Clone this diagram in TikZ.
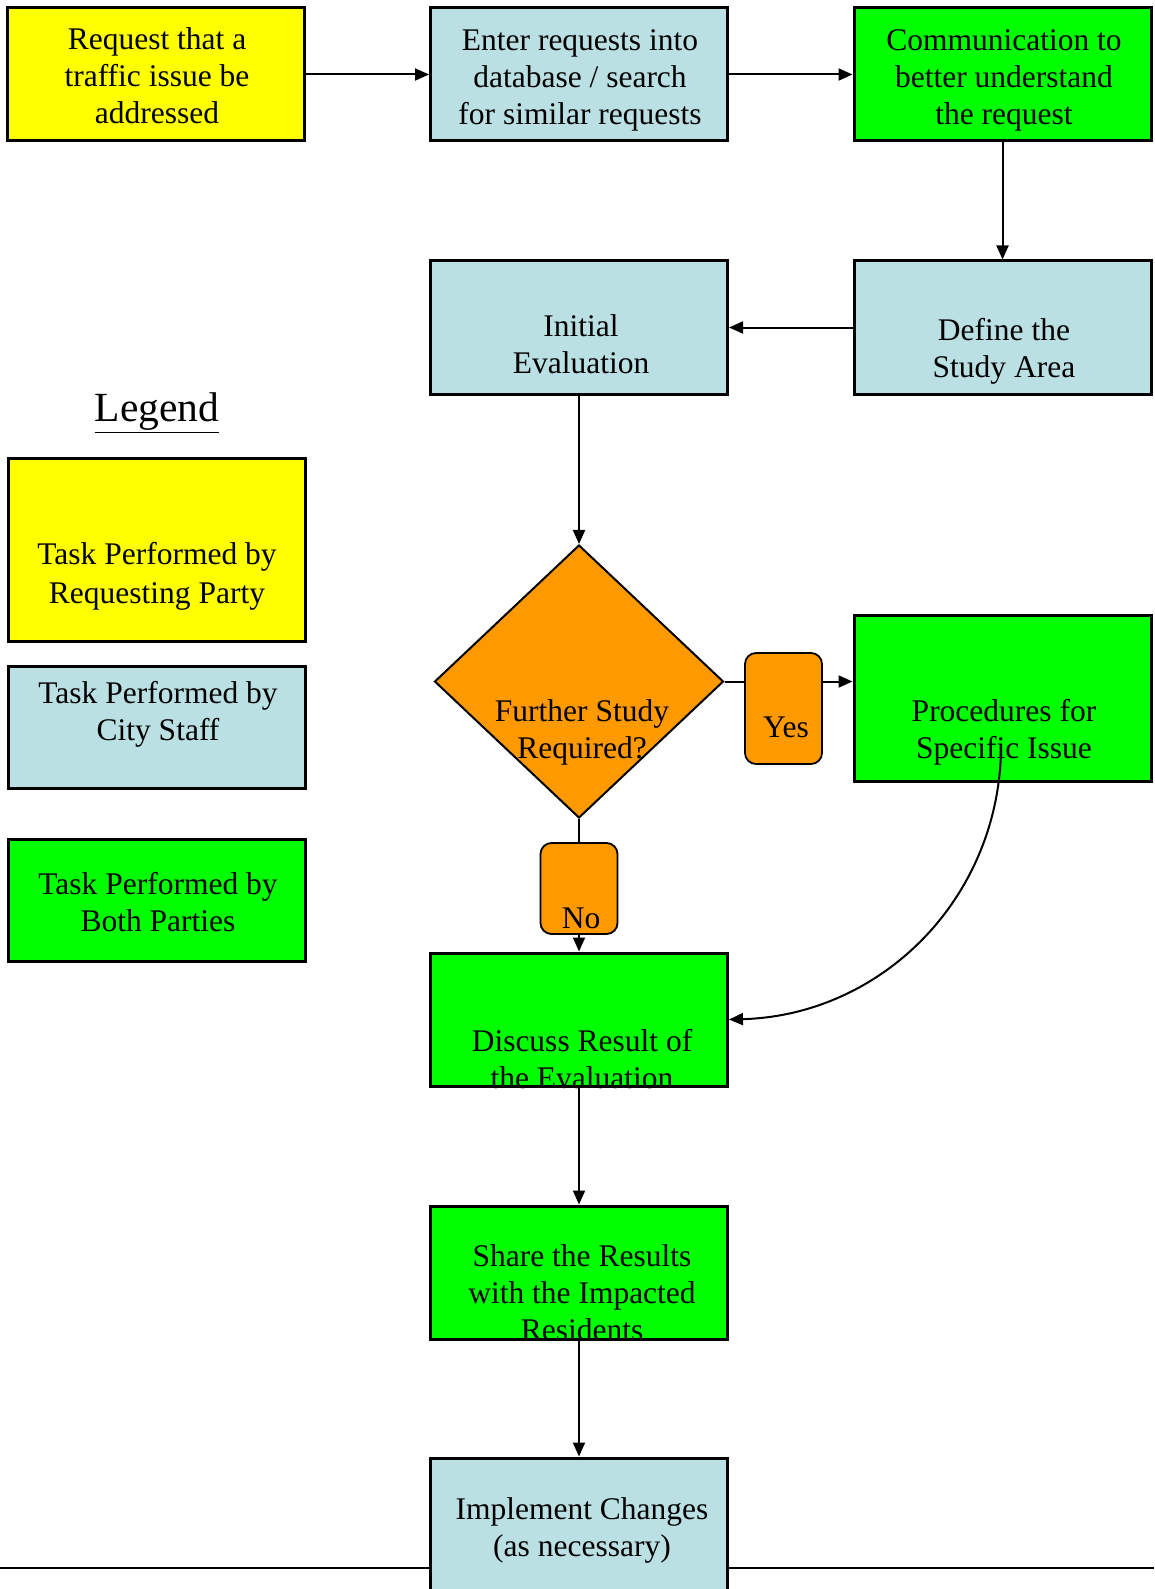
\documentclass[tikz,border=0pt]{standalone}
\usepackage{fontspec}
\setmainfont{Liberation Serif}
\usetikzlibrary{arrows.meta,calc,shapes.geometric}
\definecolor{cyel}{RGB}{255,255,0}
\definecolor{cblu}{RGB}{186,224,227}
\definecolor{cgrn}{RGB}{0,255,0}
\definecolor{corg}{RGB}{255,153,0}
\begin{document}
\begin{tikzpicture}[x=1pt,y=-1pt,
  box/.style={draw=black,line width=3pt,minimum width=297pt,minimum height=133pt,inner sep=0pt},
  txt/.style={inner sep=0pt,align=center,font=\fontsize{31.5}{37}\selectfont},
  tag/.style={draw=black,line width=1.8pt,fill=corg,rounded corners=11pt,minimum width=77pt,inner sep=0pt},
  conn/.style={draw=black,line width=2pt},
  arr/.style={conn,-{Triangle[length=14pt,width=12pt]}}]
\useasboundingbox (0,0) rectangle (1154,1589);
% base line
\coordinate (hl) at (0,1568);
\coordinate (hr) at (1154,1568);
\draw[line width=1.6pt] (hl) -- (hr);
% boxes
\node[box,fill=cyel] (b1) at (156,74.5) {};
\node[box,fill=cblu] (b2) at (579,74.5) {};
\node[box,fill=cgrn] (b3) at (1002.5,74.5) {};
\node[box,fill=cblu] (b4) at (1002.5,327.5) {};
\node[box,fill=cblu] (b5) at (579,327.5) {};
\node[box,fill=cyel,minimum height=183pt] (l1) at (157,550) {};
\node[box,fill=cblu,minimum height=122pt] (l2) at (157,727.5) {};
\node[box,fill=cgrn,minimum height=122pt] (l3) at (157,900.5) {};
\node[diamond,draw=black,line width=2pt,fill=corg,minimum width=289pt,minimum height=273pt,inner sep=0pt] (d) at (579,681.5) {};
\node[tag,minimum height=111pt] (yes) at (783.5,708.5) {};
\node[box,fill=cgrn,minimum height=166pt] (proc) at (1002.5,698) {};
\node[tag,minimum height=91pt] (no) at (579,888.5) {};
\node[box,fill=cgrn] (disc) at (579,1019.5) {};
\node[box,fill=cgrn] (share) at (579,1272.5) {};
\node[box,fill=cblu,minimum height=142pt] (impl) at (579,1529) {};
% texts
\node[txt] (t1) at (157,76) {Request that a\\traffic issue be\\addressed};
\node[txt] (t2) at (580,80) {Enter requests into\\database / search\\for similar requests};
\node[txt] (t3) at (1004,80) {Communication to\\better understand\\the request};
\node[txt] (t4) at (1004,351) {Define the\\Study Area};
\node[txt] (t5) at (581,344) {Initial\\Evaluation};
\node[inner sep=0pt,font=\fontsize{41.5}{46}\selectfont] (leg) at (157,413) {\underline{Legend}};
\node[txt,font=\fontsize{31.5}{39}\selectfont] (tl1) at (157,576) {Task Performed by\\Requesting Party};
\node[txt] (tl2) at (158,714) {Task Performed by\\City Staff};
\node[txt] (tl3) at (158,902) {Task Performed by\\Both Parties};
\node[txt] (td) at (582,732) {Further Study\\Required?};
\node[txt] (ty) at (786,727) {Yes};
\node[txt] (tp) at (1004,732) {Procedures for\\Specific Issue};
\node[txt] (tn) at (581,918) {No};
\node[txt] (tdisc) at (582,1059) {Discuss Result of\\the Evaluation};
\node[txt] (tsh) at (582,1293) {Share the Results\\with the Impacted\\Residents};
\node[txt] (tim) at (582,1530) {Implement Changes\\(as necessary)};
% connectors
\draw[arr] (b1) -- (b2);
\draw[arr] (b2) -- (b3);
\draw[arr] (b3) -- (b4);
\draw[arr] (b4) -- (b5);
\draw[arr] (b5) -- (d);
\draw[conn] (d.east) -- (d.east -| yes.west);
\draw[arr] (d.east -| yes.east) -- (d.east -| proc.west);
\draw[conn] (d.south) -- (no.north);
\draw[arr] (no.south) -- (disc.north);
\coordinate (cs) at (1001,752);
\draw[arr] (cs) .. controls +(-4,150) and +(150,-4) .. (disc.east);
\draw[arr] (disc) -- (share);
\draw[arr] (share) -- (impl);
\end{tikzpicture}
\end{document}
